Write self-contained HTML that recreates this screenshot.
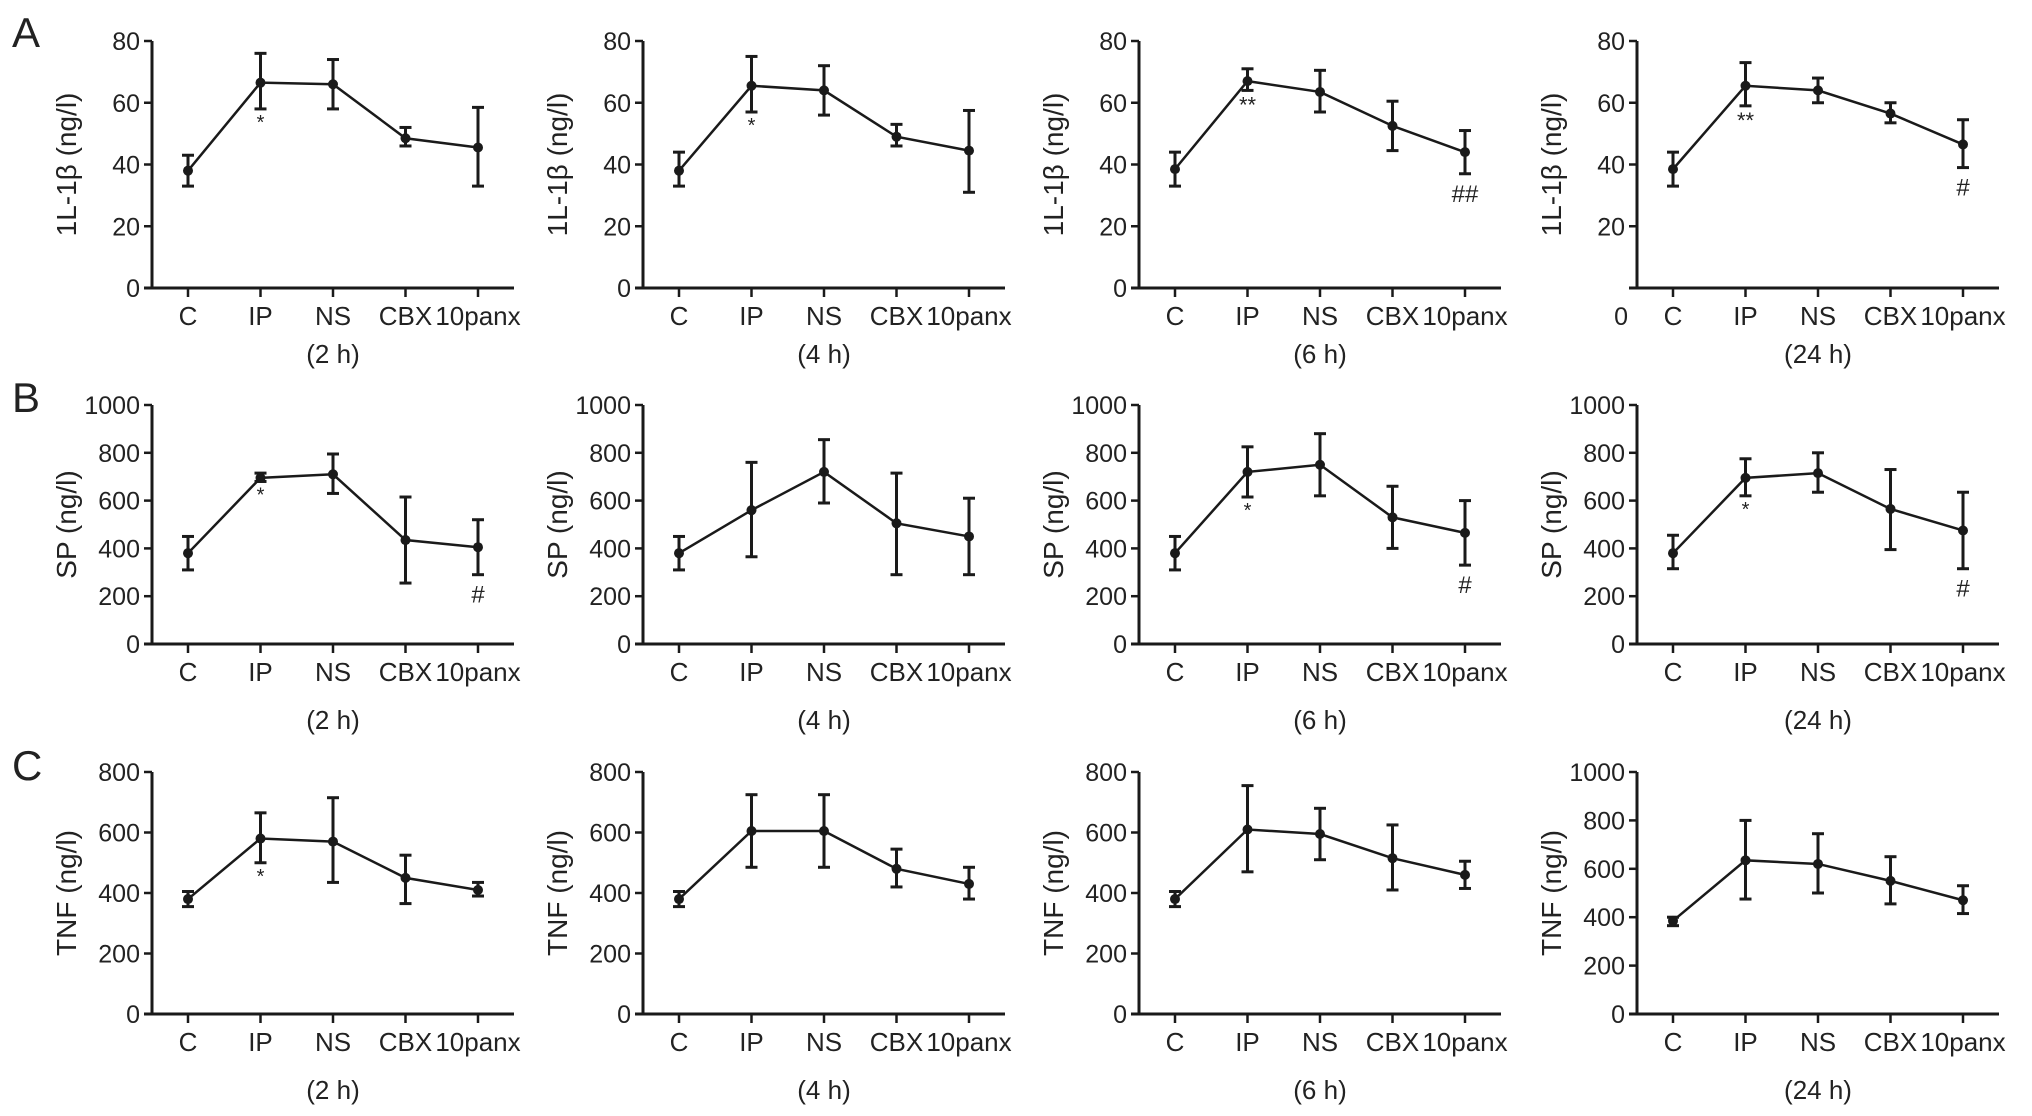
<!DOCTYPE html>
<html><head><meta charset="utf-8"><style>
html,body{margin:0;padding:0;background:#fff;}
svg{display:block;font-family:"Liberation Sans",Arial,sans-serif;}
</style></head><body>
<svg id="fig" width="2032" height="1116" viewBox="0 0 2032 1116" xmlns="http://www.w3.org/2000/svg">
<text x="12" y="47" font-size="42" fill="#222">A</text>
<text x="12" y="412" font-size="42" fill="#222">B</text>
<text x="12" y="780" font-size="42" fill="#222">C</text>
</svg>
<script>
const categories = ["C","IP","NS","CBX","10panx"];
const timeLabels = ["(2 h)","(4 h)","(6 h)","(24 h)"];
// Row A: IL-1β
const a2h = [38,66.5,66,48.5,45.5], a2hLo=[33,58,58,46,33], a2hHi=[43,76,74,52,58.5];
const a4h = [38,65.5,64,49,44.5], a4hLo=[33,57,56,46,31], a4hHi=[44,75,72,53,57.5];
const a6h = [38.5,67,63.5,52.5,44], a6hLo=[33,64,57,44.5,37], a6hHi=[44,71,70.5,60.5,51];
const a24h = [38.5,65.5,64,56.5,46.5], a24hLo=[33,59,60,53.5,39], a24hHi=[44,73,68,60,54.5];
// Row B: SP
const b2h = [380,695,710,435,405], b2hLo=[310,680,630,255,290], b2hHi=[450,715,795,615,520];
const b4h = [380,560,720,505,450], b4hLo=[310,365,590,290,290], b4hHi=[450,760,855,715,610];
const b6h = [380,720,750,530,465], b6hLo=[310,615,620,400,330], b6hHi=[450,825,880,660,600];
const b24h = [380,695,715,565,475], b24hLo=[315,620,635,395,315], b24hHi=[455,775,800,730,635];
// Row C: TNF
const c2h = [380,580,570,450,410], c2hLo=[355,500,435,365,390], c2hHi=[405,665,715,525,435];
const c4h = [380,605,605,480,430], c4hLo=[355,485,485,420,380], c4hHi=[405,725,725,545,485];
const c6h = [380,610,595,515,460], c6hLo=[355,470,510,410,415], c6hHi=[405,755,680,625,505];
const c24h = [385,635,620,550,470], c24hLo=[365,475,500,455,415], c24hHi=[400,800,745,650,530];
const ticksA = [0,20,40,60,80];
const ticksB = [0,200,400,600,800,1000];
const ticksC8 = [0,200,400,600,800];
const ticksC10 = [0,200,400,600,800,1000];
const sigA = [["*",""],["*",""],["**","##"],["**","#"]];
const sigB = [["*","#"],["",""],["*","#"],["*","#"]];
const sigC = [["*",""],["",""],["",""],["",""]];

const NS="http://www.w3.org/2000/svg";
const svg=document.getElementById('fig');
function mk(tag,attrs,parent){const e=document.createElementNS(NS,tag);for(const k in attrs)e.setAttribute(k,attrs[k]);(parent||svg).appendChild(e);return e;}
const axX=[152,643,1139,1637];
const rows=[
 {key:'a',top:41,bot:288,title:'1L-1β (ng/l)',ticks:[ticksA,ticksA,ticksA,ticksA],data:[[a2h,a2hLo,a2hHi],[a4h,a4hLo,a4hHi],[a6h,a6hLo,a6hHi],[a24h,a24hLo,a24hHi]],sig:sigA,catY:325,subY:363},
 {key:'b',top:405,bot:644,title:'SP (ng/l)',ticks:[ticksB,ticksB,ticksB,ticksB],data:[[b2h,b2hLo,b2hHi],[b4h,b4hLo,b4hHi],[b6h,b6hLo,b6hHi],[b24h,b24hLo,b24hHi]],sig:sigB,catY:681,subY:729},
 {key:'c',top:772,bot:1014,title:'TNF (ng/l)',ticks:[ticksC8,ticksC8,ticksC8,ticksC10],data:[[c2h,c2hLo,c2hHi],[c4h,c4hLo,c4hHi],[c6h,c6hLo,c6hHi],[c24h,c24hLo,c24hHi]],sig:sigC,catY:1051,subY:1099}
];
const col='#1a1a1a';
rows.forEach((r)=>{
 for(let p=0;p<4;p++){
  const ax=axX[p];const ticks=r.ticks[p];const vmax=ticks[ticks.length-1];
  const g=mk('g',{});
  
  
  const y=v=>r.bot-(v/vmax)*(r.bot-r.top);
  const x=i=>ax+36+i*72.5;
  const yl=mk('line',{x1:ax,y1:r.top,x2:ax,y2:r.bot,stroke:col,'stroke-width':3},g);
  
  
  const xl=mk('line',{x1:ax-8,y1:r.bot,x2:ax+362,y2:r.bot,stroke:col,'stroke-width':3},g);
  
  
  ticks.forEach(t=>{
   const isA24Zero=(r.key==='a'&&p===3&&t===0);
   if(!isA24Zero) mk('line',{x1:ax-8,y1:y(t),x2:ax,y2:y(t),stroke:col,'stroke-width':2.5},g);
   const tx=mk('text',{x:isA24Zero?ax-9:ax-12,y:isA24Zero?r.catY:y(t)+9,'font-size':25,'text-anchor':'end',fill:'#222'},g);
   tx.textContent=t;
   
   
  });
  const tt=mk('text',{x:0,y:0,'font-size':28,'text-anchor':'middle',fill:'#222',transform:`translate(${ax-76},${(r.top+r.bot)/2}) rotate(-90)`},g);
  tt.textContent=r.title;
  
  
  categories.forEach((c,i)=>{
   mk('line',{x1:x(i),y1:r.bot,x2:x(i),y2:r.bot+9,stroke:col,'stroke-width':2.5},g);
   const ct=mk('text',{x:x(i),y:r.catY,'font-size':26,'text-anchor':'middle',fill:'#222'},g);
   ct.textContent=c;
   
   
  });
  const st=mk('text',{x:x(2),y:r.subY,'font-size':26,'text-anchor':'middle',fill:'#222'},g);
  st.textContent=timeLabels[p];
  
  
  const [m,lo,hi]=r.data[p];
  const pts=m.map((v,i)=>x(i)+','+y(v)).join(' ');
  const pl=mk('polyline',{points:pts,fill:'none',stroke:col,'stroke-width':2.5},g);
  
  
  m.forEach((v,i)=>{
   const eg=mk('g',{},g);
   
   
   mk('line',{x1:x(i),y1:y(lo[i]),x2:x(i),y2:y(hi[i]),stroke:col,'stroke-width':3},eg);
   mk('line',{x1:x(i)-6,y1:y(lo[i]),x2:x(i)+6,y2:y(lo[i]),stroke:col,'stroke-width':3},eg);
   mk('line',{x1:x(i)-6,y1:y(hi[i]),x2:x(i)+6,y2:y(hi[i]),stroke:col,'stroke-width':3},eg);
   const pt=mk('circle',{cx:x(i),cy:y(v),r:5,fill:col},g);
   
   
  });
  const [s1,s2]=r.sig[p];
  if(s1){const s=mk('text',{x:x(1),y:y(lo[1])+(s1==='**'?22:20),'font-size':s1==='**'?22:20,'text-anchor':'middle',fill:'#222'},g);s.textContent=s1;
   
   }
  if(s2){const s=mk('text',{x:x(4),y:y(lo[4])+28,'font-size':24,'text-anchor':'middle',fill:'#222'},g);s.textContent=s2;
   
   }
 }
});
</script>
</body></html>
